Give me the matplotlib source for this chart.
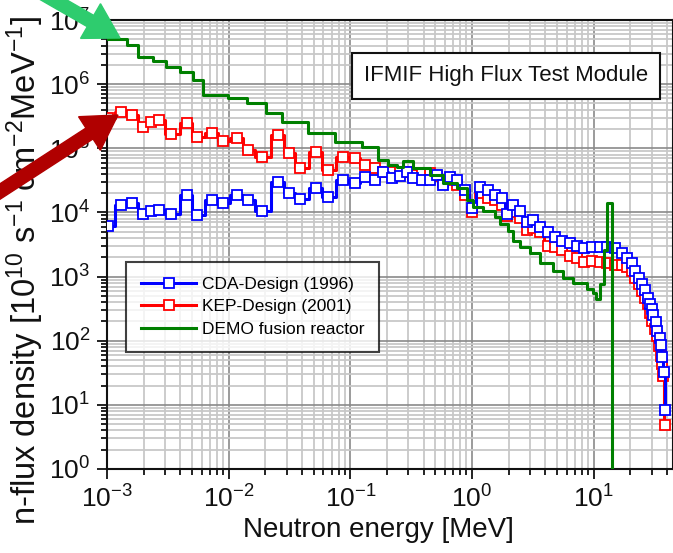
import matplotlib
matplotlib.use("Agg")
import matplotlib.pyplot as plt
import matplotlib.ticker as mticker
import matplotlib.patches as mpatches

# ---------------- data ----------------
demo_E = [1.0e-3, 1.46e-3, 1.80e-3, 2.39e-3, 3.05e-3, 3.98e-3, 5.09e-3, 6.15e-3, 9.87e-3,
          1.41e-2, 2.03e-2, 2.74e-2, 4.48e-2, 7.47e-2, 0.124, 0.169, 0.204, 0.242, 0.270,
          0.327, 0.451, 0.577, 0.752, 0.908, 1.02, 1.23, 1.54, 1.69, 1.97, 2.17, 2.48,
          2.99, 3.61, 4.62, 5.59, 6.75, 8.79, 9.84, 10.4, 11.2, 12.1, 12.8, 14.1]
demo_flux = [5.05e6, 4.07e6, 2.64e6, 2.29e6, 1.84e6, 1.54e6, 1.16e6, 6.7e5, 6.0e5,
             5.05e5, 3.52e5, 2.55e5, 1.71e5, 1.24e5, 1.04e5, 6.5e4, 5.4e4, 5.05e4, 6.3e4,
             4.9e4, 3.8e4, 2.9e4, 2.37e4, 1.54e4, 1.20e4, 1.07e4, 8.4e3, 6.7e3, 5.2e3,
             3.65e3, 2.84e3, 2.29e3, 1.60e3, 1.24e3, 964, 806, 650, 562, 453, 778,
             2.55e3, 1.38e4, 0.1]

cda_E = [1.02e-3, 1.30e-3, 1.60e-3, 1.98e-3, 2.30e-3, 2.67e-3, 3.36e-3, 4.54e-3, 5.49e-3,
         7.29e-3, 8.98e-3, 1.17e-2, 1.44e-2, 1.88e-2, 2.54e-2, 3.13e-2, 3.85e-2, 5.22e-2,
         6.55e-2, 8.70e-2, 0.109, 0.132, 0.159, 0.185, 0.220, 0.256, 0.292, 0.327, 0.388,
         0.451, 0.515, 0.577, 0.658, 0.751, 0.874, 1.0, 1.16, 1.35, 1.54, 1.76, 1.94,
         2.17, 2.48, 2.83, 3.17, 3.61, 4.21, 4.80, 5.48, 6.37, 7.28, 8.30, 9.66, 11.2,
         12.8, 14.9, 17.1, 18.7, 20.6, 21.8, 23.5, 24.9, 26.3, 27.9, 29.0, 30.1, 30.7,
         32.4, 33.1, 35.0, 35.7, 36.3, 37.8, 38.5]
cda_flux = [6.04e3, 1.29e4, 1.38e4, 9.3e3, 1.04e4, 1.11e4, 9.6e3, 1.84e4, 8.97e3,
            1.54e4, 1.38e4, 1.84e4, 1.54e4, 1.04e4, 2.94e4, 1.98e4, 1.60e4, 2.37e4,
            1.72e4, 3.16e4, 2.84e4, 3.52e4, 3.16e4, 4.22e4, 3.40e4, 3.65e4, 4.22e4,
            3.40e4, 3.16e4, 3.16e4, 3.79e4, 2.64e4, 3.52e4, 3.16e4, 2.21e4, 1.16e4,
            2.46e4, 2.21e4, 1.84e4, 1.66e4, 9.6e3, 1.29e4, 1.07e4, 6.98e3, 7.5e3,
            5.84e3, 4.87e3, 4.07e3, 3.65e3, 3.28e3, 3.05e3, 2.74e3, 2.84e3, 2.84e3,
            2.84e3, 2.74e3, 2.37e3, 1.98e3, 1.60e3, 1.24e3, 965, 778, 627, 470, 378,
            316, 255, 198, 143, 111, 86.6, 56.2, 32.8, 8.35]

kep_E = [1.02e-3, 1.30e-3, 1.60e-3, 1.98e-3, 2.30e-3, 2.67e-3, 3.36e-3, 4.54e-3, 5.49e-3,
         7.29e-3, 8.98e-3, 1.17e-2, 1.44e-2, 1.88e-2, 2.54e-2, 3.13e-2, 3.85e-2, 5.22e-2,
         6.55e-2, 8.70e-2, 0.109, 0.132, 0.159, 0.185, 0.220, 0.256, 0.292, 0.327, 0.388,
         0.451, 0.515, 0.577, 0.658, 0.751, 0.874, 1.0, 1.16, 1.35, 1.54, 1.76, 1.94,
         2.17, 2.48, 2.83, 3.17, 3.61, 4.21, 4.80, 5.48, 6.37, 7.28, 8.30, 9.66, 11.2,
         12.8, 14.9, 17.1, 18.7, 20.6, 21.8, 23.5, 24.9, 26.3, 27.9, 29.0, 30.1, 31.8,
         33.1, 34.3, 35.7, 36.3, 37.0, 38.5]
kep_flux = [2.94e5, 3.65e5, 3.28e5, 2.13e5, 2.55e5, 2.74e5, 1.66e5, 2.46e5, 1.49e5,
            1.72e5, 1.29e5, 1.43e5, 9.3e4, 7.2e4, 1.60e5, 8.4e4, 4.87e4, 8.7e4, 4.53e4,
            7.2e4, 6.98e4, 5.42e4, 4.87e4, 4.22e4, 4.22e4, 4.22e4, 4.22e4, 3.79e4,
            4.07e4, 4.07e4, 3.65e4, 2.94e4, 3.16e4, 2.64e4, 1.84e4, 1.0e4, 1.98e4,
            1.66e4, 1.54e4, 1.29e4, 8.66e3, 1.0e4, 8.06e3, 5.23e3, 5.62e3, 4.87e3,
            3.05e3, 2.84e3, 2.55e3, 2.13e3, 1.98e3, 1.66e3, 1.78e3, 1.66e3, 1.60e3,
            1.49e3, 1.49e3, 1.43e3, 1.24e3, 965, 778, 604, 470, 378, 274, 205, 154,
            120, 83.5, 58.3, 43.7, 28.4, 4.87]

series_labels = ["CDA-Design (1996)", "KEP-Design (2001)", "DEMO fusion reactor"]
box_title = "IFMIF High Flux Test Module"
x_label = "Neutron energy [MeV]"
y_label = r"n-flux density [10$^{10}$ s$^{-1}$ cm$^{-2}$MeV$^{-1}$]"

# ---------------- fonts ----------------
fam = "Liberation Sans"
plt.rcParams["font.family"] = [fam, "DejaVu Sans"]
plt.rcParams["mathtext.fontset"] = "custom"
plt.rcParams["mathtext.rm"] = fam
plt.rcParams["mathtext.it"] = fam
plt.rcParams["mathtext.bf"] = fam
plt.rcParams["mathtext.sf"] = fam
plt.rcParams["mathtext.default"] = "regular"

W, H = 673, 553
fig = plt.figure(figsize=(W / 100, H / 100), dpi=100)
ax = fig.add_axes([107 / W, (H - 469) / H, (W - 107) / W, (469 - 20) / H])

ax.set_xscale("log")
ax.set_yscale("log")
ax.set_xlim(1e-3, 44.8)
ax.set_ylim(1, 1e7)

ax.grid(which="minor", color="#c8c8c8", lw=1.3, zorder=0)
ax.grid(which="major", color="#8a8a8a", lw=1.2, zorder=0)
ax.set_axisbelow(True)

ax.plot(kep_E, kep_flux, drawstyle="steps-mid", color="#ff0000", lw=2.2,
        marker="s", ms=7, mfc="white", mec="#ff0000", mew=1.3, label=series_labels[1], zorder=3)
ax.plot(cda_E, cda_flux, drawstyle="steps-mid", color="#0000ff", lw=2.2,
        marker="s", ms=7, mfc="white", mec="#0000ff", mew=1.3, label=series_labels[0], zorder=4)
ax.step(demo_E, demo_flux, where="post", color="#008000", lw=2.2,
        label=series_labels[2], zorder=5)

ax.xaxis.set_major_locator(mticker.LogLocator(base=10, numticks=20))
ax.xaxis.set_minor_locator(mticker.LogLocator(base=10, subs=range(2, 10), numticks=20))
ax.yaxis.set_major_locator(mticker.LogLocator(base=10, numticks=20))
ax.yaxis.set_minor_locator(mticker.LogLocator(base=10, subs=range(2, 10), numticks=20))
ax.xaxis.set_major_formatter(mticker.LogFormatterMathtext())
ax.yaxis.set_major_formatter(mticker.LogFormatterMathtext())
ax.xaxis.set_minor_formatter(mticker.NullFormatter())
ax.yaxis.set_minor_formatter(mticker.NullFormatter())

ax.tick_params(which="both", direction="out", top=False, right=False, colors="#111111",
               width=1.3)
ax.tick_params(which="major", length=7, labelsize=19, pad=5)
ax.tick_params(which="minor", length=4)
for s in ["top", "left", "bottom", "right"]:
    ax.spines[s].set_linewidth(1.5)
    ax.spines[s].set_color("#111111")

fig.text(378 / W, 1 - 530 / H, x_label, ha="center", va="center", fontsize=20, color="#111111")
fig.text(25 / W, 1 - 271 / H, y_label, ha="center", va="center", rotation=90,
         fontsize=23.5, color="#111111")

# legend (handles ordered as in reference)
h, l = ax.get_legend_handles_labels()
order = [1, 0, 2]
leg = ax.legend([h[i] for i in order], [l[i] for i in order],
                loc="upper left", bbox_to_anchor=((126 - 107) / 566, (469 - 262) / 449),
                frameon=True, fancybox=False, edgecolor="#111111", fontsize=12.5,
                handlelength=3.2, borderpad=0.85, labelspacing=0.42, handletextpad=0.3,
                borderaxespad=0)
leg.get_frame().set_linewidth(1.5)
leg.set_zorder(10)

# title box
ax.text((506 - 107) / 566, (469 - 76) / 449, box_title, transform=ax.transAxes,
        ha="center", va="center", fontsize=16, color="#111111", zorder=10,
        bbox=dict(boxstyle="square,pad=0.55", fc="white", ec="#111111", lw=1.5))

# arrows in figure pixels (via inches at 100 dpi)
def px(x, y):
    return x / 100, (H - y) / 100

gx0, gy0 = px(40, -8)
gx1, gy1 = px(120, 38)
fig.patches.append(mpatches.FancyArrow(gx0, gy0, gx1 - gx0, gy1 - gy0, width=0.13,
                                       head_width=0.40, head_length=0.34,
                                       length_includes_head=True, color="#2ecc6e",
                                       transform=fig.dpi_scale_trans, zorder=20))
rx0, ry0 = px(-10, 198)
rx1, ry1 = px(118, 115)
fig.patches.append(mpatches.FancyArrow(rx0, ry0, rx1 - rx0, ry1 - ry0, width=0.13,
                                       head_width=0.40, head_length=0.34,
                                       length_includes_head=True, color="#b00000",
                                       transform=fig.dpi_scale_trans, zorder=20))

fig.savefig("out.png", dpi=100)
